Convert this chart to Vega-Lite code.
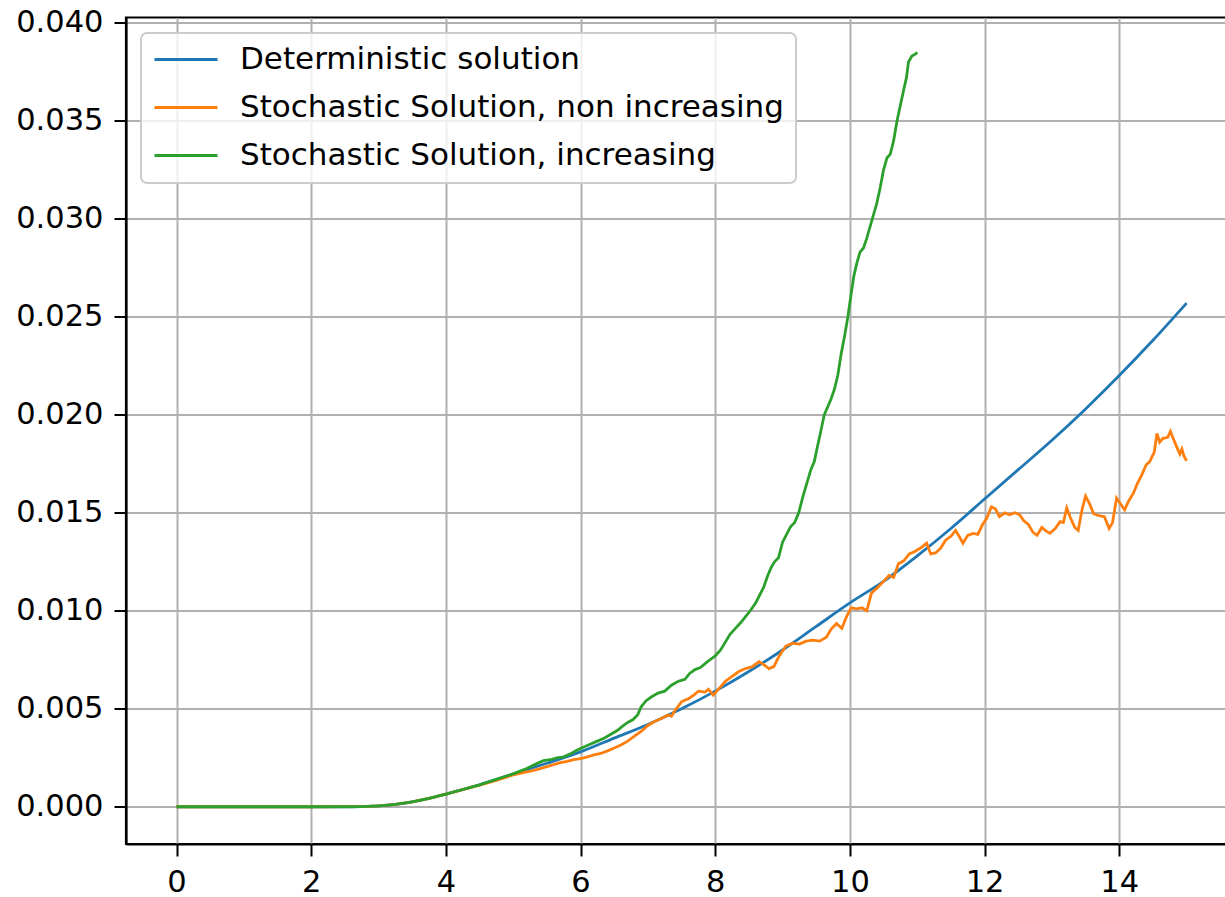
{
  "$schema": "https://vega.github.io/schema/vega-lite/v6.json",
  "usermeta": {"embedOptions": {"actions": false}},
  "width": 1101,
  "height": 826.5,
  "autosize": {"type": "none"},
  "padding": {"left": 126, "top": 17.5, "right": -2, "bottom": 53},
  "background": "white",
  "config": {
    "font": "DejaVu Sans",
    "view": {"stroke": "black", "strokeWidth": 2.2},
    "axis": {
      "grid": true,
      "gridColor": "#b0b0b0",
      "gridWidth": 2,
      "domainColor": "black",
      "domainWidth": 2.2,
      "tickColor": "black",
      "tickWidth": 2,
      "tickSize": 12,
      "labelFont": "DejaVu Sans",
      "labelFontSize": 30.5,
      "labelColor": "black",
      "labelPadding": 11,
      "labelFlush": false,
      "labelOverlap": false,
      "title": null
    },
    "legend": {"strokeWidth": 2}
  },
  "datasets": {
    "det": [
      {"t": 0, "value": 0, "s": "Deterministic solution"},
      {"t": 1, "value": 0, "s": "Deterministic solution"},
      {"t": 2, "value": 0, "s": "Deterministic solution"},
      {"t": 2.5, "value": 0, "s": "Deterministic solution"},
      {"t": 2.75, "value": 0.00001, "s": "Deterministic solution"},
      {"t": 3, "value": 0.00004, "s": "Deterministic solution"},
      {"t": 3.25, "value": 0.00012, "s": "Deterministic solution"},
      {"t": 3.5, "value": 0.00025, "s": "Deterministic solution"},
      {"t": 3.75, "value": 0.00043, "s": "Deterministic solution"},
      {"t": 4, "value": 0.00065, "s": "Deterministic solution"},
      {"t": 4.5, "value": 0.00112, "s": "Deterministic solution"},
      {"t": 5, "value": 0.00167, "s": "Deterministic solution"},
      {"t": 5.5, "value": 0.00222, "s": "Deterministic solution"},
      {"t": 6, "value": 0.0028, "s": "Deterministic solution"},
      {"t": 6.5, "value": 0.0035, "s": "Deterministic solution"},
      {"t": 7, "value": 0.0042, "s": "Deterministic solution"},
      {"t": 7.5, "value": 0.005, "s": "Deterministic solution"},
      {"t": 8, "value": 0.0059, "s": "Deterministic solution"},
      {"t": 8.5, "value": 0.0069, "s": "Deterministic solution"},
      {"t": 9, "value": 0.008, "s": "Deterministic solution"},
      {"t": 9.5, "value": 0.0092, "s": "Deterministic solution"},
      {"t": 10, "value": 0.0104, "s": "Deterministic solution"},
      {"t": 10.5, "value": 0.0115, "s": "Deterministic solution"},
      {"t": 11, "value": 0.0128, "s": "Deterministic solution"},
      {"t": 11.5, "value": 0.0142, "s": "Deterministic solution"},
      {"t": 12, "value": 0.0157, "s": "Deterministic solution"},
      {"t": 12.5, "value": 0.0172, "s": "Deterministic solution"},
      {"t": 13, "value": 0.0187, "s": "Deterministic solution"},
      {"t": 13.5, "value": 0.0203, "s": "Deterministic solution"},
      {"t": 14, "value": 0.022, "s": "Deterministic solution"},
      {"t": 14.5, "value": 0.0238, "s": "Deterministic solution"},
      {"t": 15, "value": 0.0257, "s": "Deterministic solution"}
    ],
    "non": [
      {"t": 0, "value": 0, "s": "Stochastic Solution, non increasing"},
      {"t": 1, "value": 0, "s": "Stochastic Solution, non increasing"},
      {"t": 2, "value": 0, "s": "Stochastic Solution, non increasing"},
      {"t": 2.75, "value": 0.00001, "s": "Stochastic Solution, non increasing"},
      {"t": 3, "value": 0.00004, "s": "Stochastic Solution, non increasing"},
      {"t": 3.25, "value": 0.00012, "s": "Stochastic Solution, non increasing"},
      {"t": 3.5, "value": 0.00025, "s": "Stochastic Solution, non increasing"},
      {"t": 3.75, "value": 0.00043, "s": "Stochastic Solution, non increasing"},
      {"t": 4, "value": 0.00064, "s": "Stochastic Solution, non increasing"},
      {"t": 4.25, "value": 0.00087, "s": "Stochastic Solution, non increasing"},
      {"t": 4.5, "value": 0.0011, "s": "Stochastic Solution, non increasing"},
      {"t": 4.75, "value": 0.00135, "s": "Stochastic Solution, non increasing"},
      {"t": 5.0, "value": 0.00162, "s": "Stochastic Solution, non increasing"},
      {"t": 5.1, "value": 0.0017, "s": "Stochastic Solution, non increasing"},
      {"t": 5.2, "value": 0.00178, "s": "Stochastic Solution, non increasing"},
      {"t": 5.3, "value": 0.00185, "s": "Stochastic Solution, non increasing"},
      {"t": 5.4, "value": 0.00195, "s": "Stochastic Solution, non increasing"},
      {"t": 5.5, "value": 0.00205, "s": "Stochastic Solution, non increasing"},
      {"t": 5.6, "value": 0.00215, "s": "Stochastic Solution, non increasing"},
      {"t": 5.7, "value": 0.00225, "s": "Stochastic Solution, non increasing"},
      {"t": 5.8, "value": 0.00232, "s": "Stochastic Solution, non increasing"},
      {"t": 5.9, "value": 0.0024, "s": "Stochastic Solution, non increasing"},
      {"t": 6.0, "value": 0.00245, "s": "Stochastic Solution, non increasing"},
      {"t": 6.1, "value": 0.00255, "s": "Stochastic Solution, non increasing"},
      {"t": 6.2, "value": 0.00265, "s": "Stochastic Solution, non increasing"},
      {"t": 6.3, "value": 0.00272, "s": "Stochastic Solution, non increasing"},
      {"t": 6.4, "value": 0.00285, "s": "Stochastic Solution, non increasing"},
      {"t": 6.5, "value": 0.003, "s": "Stochastic Solution, non increasing"},
      {"t": 6.6, "value": 0.00315, "s": "Stochastic Solution, non increasing"},
      {"t": 6.7, "value": 0.00335, "s": "Stochastic Solution, non increasing"},
      {"t": 6.8, "value": 0.0036, "s": "Stochastic Solution, non increasing"},
      {"t": 6.9, "value": 0.00385, "s": "Stochastic Solution, non increasing"},
      {"t": 7.0, "value": 0.00415, "s": "Stochastic Solution, non increasing"},
      {"t": 7.1, "value": 0.00435, "s": "Stochastic Solution, non increasing"},
      {"t": 7.2, "value": 0.0045, "s": "Stochastic Solution, non increasing"},
      {"t": 7.3, "value": 0.00468, "s": "Stochastic Solution, non increasing"},
      {"t": 7.35, "value": 0.00462, "s": "Stochastic Solution, non increasing"},
      {"t": 7.4, "value": 0.0049, "s": "Stochastic Solution, non increasing"},
      {"t": 7.5, "value": 0.00535, "s": "Stochastic Solution, non increasing"},
      {"t": 7.55, "value": 0.00545, "s": "Stochastic Solution, non increasing"},
      {"t": 7.6, "value": 0.0055, "s": "Stochastic Solution, non increasing"},
      {"t": 7.7, "value": 0.00575, "s": "Stochastic Solution, non increasing"},
      {"t": 7.75, "value": 0.0059, "s": "Stochastic Solution, non increasing"},
      {"t": 7.85, "value": 0.00585, "s": "Stochastic Solution, non increasing"},
      {"t": 7.9, "value": 0.006, "s": "Stochastic Solution, non increasing"},
      {"t": 7.97, "value": 0.0057, "s": "Stochastic Solution, non increasing"},
      {"t": 8.05, "value": 0.006, "s": "Stochastic Solution, non increasing"},
      {"t": 8.15, "value": 0.0064, "s": "Stochastic Solution, non increasing"},
      {"t": 8.25, "value": 0.00665, "s": "Stochastic Solution, non increasing"},
      {"t": 8.35, "value": 0.0069, "s": "Stochastic Solution, non increasing"},
      {"t": 8.45, "value": 0.00705, "s": "Stochastic Solution, non increasing"},
      {"t": 8.55, "value": 0.00715, "s": "Stochastic Solution, non increasing"},
      {"t": 8.65, "value": 0.0074, "s": "Stochastic Solution, non increasing"},
      {"t": 8.72, "value": 0.00725, "s": "Stochastic Solution, non increasing"},
      {"t": 8.8, "value": 0.00705, "s": "Stochastic Solution, non increasing"},
      {"t": 8.87, "value": 0.00715, "s": "Stochastic Solution, non increasing"},
      {"t": 8.95, "value": 0.0077, "s": "Stochastic Solution, non increasing"},
      {"t": 9.05, "value": 0.0082, "s": "Stochastic Solution, non increasing"},
      {"t": 9.15, "value": 0.00835, "s": "Stochastic Solution, non increasing"},
      {"t": 9.25, "value": 0.0083, "s": "Stochastic Solution, non increasing"},
      {"t": 9.35, "value": 0.00845, "s": "Stochastic Solution, non increasing"},
      {"t": 9.45, "value": 0.0085, "s": "Stochastic Solution, non increasing"},
      {"t": 9.55, "value": 0.00845, "s": "Stochastic Solution, non increasing"},
      {"t": 9.65, "value": 0.00865, "s": "Stochastic Solution, non increasing"},
      {"t": 9.72, "value": 0.00905, "s": "Stochastic Solution, non increasing"},
      {"t": 9.8, "value": 0.00935, "s": "Stochastic Solution, non increasing"},
      {"t": 9.88, "value": 0.0091, "s": "Stochastic Solution, non increasing"},
      {"t": 9.95, "value": 0.0097, "s": "Stochastic Solution, non increasing"},
      {"t": 10.02, "value": 0.01015, "s": "Stochastic Solution, non increasing"},
      {"t": 10.1, "value": 0.0101, "s": "Stochastic Solution, non increasing"},
      {"t": 10.18, "value": 0.01015, "s": "Stochastic Solution, non increasing"},
      {"t": 10.25, "value": 0.01, "s": "Stochastic Solution, non increasing"},
      {"t": 10.32, "value": 0.0109, "s": "Stochastic Solution, non increasing"},
      {"t": 10.4, "value": 0.01115, "s": "Stochastic Solution, non increasing"},
      {"t": 10.5, "value": 0.0115, "s": "Stochastic Solution, non increasing"},
      {"t": 10.58, "value": 0.0118, "s": "Stochastic Solution, non increasing"},
      {"t": 10.65, "value": 0.0117, "s": "Stochastic Solution, non increasing"},
      {"t": 10.72, "value": 0.0124, "s": "Stochastic Solution, non increasing"},
      {"t": 10.8, "value": 0.01255, "s": "Stochastic Solution, non increasing"},
      {"t": 10.88, "value": 0.0129, "s": "Stochastic Solution, non increasing"},
      {"t": 10.95, "value": 0.013, "s": "Stochastic Solution, non increasing"},
      {"t": 11.05, "value": 0.0132, "s": "Stochastic Solution, non increasing"},
      {"t": 11.14, "value": 0.01345, "s": "Stochastic Solution, non increasing"},
      {"t": 11.2, "value": 0.0129, "s": "Stochastic Solution, non increasing"},
      {"t": 11.27, "value": 0.01295, "s": "Stochastic Solution, non increasing"},
      {"t": 11.35, "value": 0.0132, "s": "Stochastic Solution, non increasing"},
      {"t": 11.42, "value": 0.0136, "s": "Stochastic Solution, non increasing"},
      {"t": 11.5, "value": 0.0138, "s": "Stochastic Solution, non increasing"},
      {"t": 11.57, "value": 0.0141, "s": "Stochastic Solution, non increasing"},
      {"t": 11.63, "value": 0.01375, "s": "Stochastic Solution, non increasing"},
      {"t": 11.68, "value": 0.01345, "s": "Stochastic Solution, non increasing"},
      {"t": 11.75, "value": 0.01385, "s": "Stochastic Solution, non increasing"},
      {"t": 11.83, "value": 0.01395, "s": "Stochastic Solution, non increasing"},
      {"t": 11.9, "value": 0.0139, "s": "Stochastic Solution, non increasing"},
      {"t": 11.97, "value": 0.0144, "s": "Stochastic Solution, non increasing"},
      {"t": 12.03, "value": 0.0147, "s": "Stochastic Solution, non increasing"},
      {"t": 12.1, "value": 0.0153, "s": "Stochastic Solution, non increasing"},
      {"t": 12.16, "value": 0.0152, "s": "Stochastic Solution, non increasing"},
      {"t": 12.22, "value": 0.0148, "s": "Stochastic Solution, non increasing"},
      {"t": 12.3, "value": 0.015, "s": "Stochastic Solution, non increasing"},
      {"t": 12.37, "value": 0.0149, "s": "Stochastic Solution, non increasing"},
      {"t": 12.45, "value": 0.015, "s": "Stochastic Solution, non increasing"},
      {"t": 12.52, "value": 0.0149, "s": "Stochastic Solution, non increasing"},
      {"t": 12.58, "value": 0.0146, "s": "Stochastic Solution, non increasing"},
      {"t": 12.65, "value": 0.0144, "s": "Stochastic Solution, non increasing"},
      {"t": 12.72, "value": 0.014, "s": "Stochastic Solution, non increasing"},
      {"t": 12.78, "value": 0.01385, "s": "Stochastic Solution, non increasing"},
      {"t": 12.85, "value": 0.01425, "s": "Stochastic Solution, non increasing"},
      {"t": 12.9, "value": 0.0141, "s": "Stochastic Solution, non increasing"},
      {"t": 12.97, "value": 0.01395, "s": "Stochastic Solution, non increasing"},
      {"t": 13.05, "value": 0.0142, "s": "Stochastic Solution, non increasing"},
      {"t": 13.12, "value": 0.01455, "s": "Stochastic Solution, non increasing"},
      {"t": 13.17, "value": 0.0145, "s": "Stochastic Solution, non increasing"},
      {"t": 13.22, "value": 0.01525, "s": "Stochastic Solution, non increasing"},
      {"t": 13.28, "value": 0.0147, "s": "Stochastic Solution, non increasing"},
      {"t": 13.34, "value": 0.01425, "s": "Stochastic Solution, non increasing"},
      {"t": 13.39, "value": 0.0141, "s": "Stochastic Solution, non increasing"},
      {"t": 13.45, "value": 0.0152, "s": "Stochastic Solution, non increasing"},
      {"t": 13.5, "value": 0.01585, "s": "Stochastic Solution, non increasing"},
      {"t": 13.56, "value": 0.01545, "s": "Stochastic Solution, non increasing"},
      {"t": 13.62, "value": 0.01495, "s": "Stochastic Solution, non increasing"},
      {"t": 13.7, "value": 0.01485, "s": "Stochastic Solution, non increasing"},
      {"t": 13.78, "value": 0.0148, "s": "Stochastic Solution, non increasing"},
      {"t": 13.85, "value": 0.0142, "s": "Stochastic Solution, non increasing"},
      {"t": 13.9, "value": 0.0145, "s": "Stochastic Solution, non increasing"},
      {"t": 13.96, "value": 0.01575, "s": "Stochastic Solution, non increasing"},
      {"t": 14.02, "value": 0.01545, "s": "Stochastic Solution, non increasing"},
      {"t": 14.08, "value": 0.01515, "s": "Stochastic Solution, non increasing"},
      {"t": 14.14, "value": 0.0156, "s": "Stochastic Solution, non increasing"},
      {"t": 14.21, "value": 0.016, "s": "Stochastic Solution, non increasing"},
      {"t": 14.27, "value": 0.0165, "s": "Stochastic Solution, non increasing"},
      {"t": 14.33, "value": 0.0169, "s": "Stochastic Solution, non increasing"},
      {"t": 14.4, "value": 0.01745, "s": "Stochastic Solution, non increasing"},
      {"t": 14.45, "value": 0.0176, "s": "Stochastic Solution, non increasing"},
      {"t": 14.52, "value": 0.0181, "s": "Stochastic Solution, non increasing"},
      {"t": 14.56, "value": 0.01905, "s": "Stochastic Solution, non increasing"},
      {"t": 14.6, "value": 0.0186, "s": "Stochastic Solution, non increasing"},
      {"t": 14.65, "value": 0.0188, "s": "Stochastic Solution, non increasing"},
      {"t": 14.72, "value": 0.01885, "s": "Stochastic Solution, non increasing"},
      {"t": 14.76, "value": 0.01915, "s": "Stochastic Solution, non increasing"},
      {"t": 14.8, "value": 0.0188, "s": "Stochastic Solution, non increasing"},
      {"t": 14.86, "value": 0.0183, "s": "Stochastic Solution, non increasing"},
      {"t": 14.9, "value": 0.018, "s": "Stochastic Solution, non increasing"},
      {"t": 14.93, "value": 0.01825, "s": "Stochastic Solution, non increasing"},
      {"t": 14.96, "value": 0.0179, "s": "Stochastic Solution, non increasing"},
      {"t": 15.0, "value": 0.01765, "s": "Stochastic Solution, non increasing"}
    ],
    "inc": [
      {"t": 0, "value": 0, "s": "Stochastic Solution, increasing"},
      {"t": 1, "value": 0, "s": "Stochastic Solution, increasing"},
      {"t": 2, "value": 0, "s": "Stochastic Solution, increasing"},
      {"t": 2.75, "value": 0.00001, "s": "Stochastic Solution, increasing"},
      {"t": 3, "value": 0.00004, "s": "Stochastic Solution, increasing"},
      {"t": 3.25, "value": 0.00012, "s": "Stochastic Solution, increasing"},
      {"t": 3.5, "value": 0.00025, "s": "Stochastic Solution, increasing"},
      {"t": 3.75, "value": 0.00043, "s": "Stochastic Solution, increasing"},
      {"t": 4, "value": 0.00065, "s": "Stochastic Solution, increasing"},
      {"t": 4.25, "value": 0.00088, "s": "Stochastic Solution, increasing"},
      {"t": 4.5, "value": 0.00112, "s": "Stochastic Solution, increasing"},
      {"t": 4.75, "value": 0.0014, "s": "Stochastic Solution, increasing"},
      {"t": 5.0, "value": 0.00168, "s": "Stochastic Solution, increasing"},
      {"t": 5.2, "value": 0.00195, "s": "Stochastic Solution, increasing"},
      {"t": 5.35, "value": 0.0022, "s": "Stochastic Solution, increasing"},
      {"t": 5.45, "value": 0.00235, "s": "Stochastic Solution, increasing"},
      {"t": 5.55, "value": 0.0024, "s": "Stochastic Solution, increasing"},
      {"t": 5.65, "value": 0.0025, "s": "Stochastic Solution, increasing"},
      {"t": 5.75, "value": 0.00255, "s": "Stochastic Solution, increasing"},
      {"t": 5.85, "value": 0.0027, "s": "Stochastic Solution, increasing"},
      {"t": 5.95, "value": 0.0029, "s": "Stochastic Solution, increasing"},
      {"t": 6.05, "value": 0.00305, "s": "Stochastic Solution, increasing"},
      {"t": 6.15, "value": 0.0032, "s": "Stochastic Solution, increasing"},
      {"t": 6.25, "value": 0.00335, "s": "Stochastic Solution, increasing"},
      {"t": 6.35, "value": 0.0035, "s": "Stochastic Solution, increasing"},
      {"t": 6.45, "value": 0.0037, "s": "Stochastic Solution, increasing"},
      {"t": 6.55, "value": 0.0039, "s": "Stochastic Solution, increasing"},
      {"t": 6.62, "value": 0.0041, "s": "Stochastic Solution, increasing"},
      {"t": 6.7, "value": 0.0043, "s": "Stochastic Solution, increasing"},
      {"t": 6.78, "value": 0.00445, "s": "Stochastic Solution, increasing"},
      {"t": 6.85, "value": 0.0047, "s": "Stochastic Solution, increasing"},
      {"t": 6.9, "value": 0.0051, "s": "Stochastic Solution, increasing"},
      {"t": 6.97, "value": 0.0054, "s": "Stochastic Solution, increasing"},
      {"t": 7.05, "value": 0.0056, "s": "Stochastic Solution, increasing"},
      {"t": 7.15, "value": 0.0058, "s": "Stochastic Solution, increasing"},
      {"t": 7.25, "value": 0.0059, "s": "Stochastic Solution, increasing"},
      {"t": 7.35, "value": 0.0062, "s": "Stochastic Solution, increasing"},
      {"t": 7.45, "value": 0.0064, "s": "Stochastic Solution, increasing"},
      {"t": 7.55, "value": 0.0065, "s": "Stochastic Solution, increasing"},
      {"t": 7.62, "value": 0.0068, "s": "Stochastic Solution, increasing"},
      {"t": 7.7, "value": 0.007, "s": "Stochastic Solution, increasing"},
      {"t": 7.78, "value": 0.0071, "s": "Stochastic Solution, increasing"},
      {"t": 7.85, "value": 0.0073, "s": "Stochastic Solution, increasing"},
      {"t": 7.92, "value": 0.0075, "s": "Stochastic Solution, increasing"},
      {"t": 8.0, "value": 0.0077, "s": "Stochastic Solution, increasing"},
      {"t": 8.08, "value": 0.008, "s": "Stochastic Solution, increasing"},
      {"t": 8.15, "value": 0.0084, "s": "Stochastic Solution, increasing"},
      {"t": 8.22, "value": 0.0088, "s": "Stochastic Solution, increasing"},
      {"t": 8.3, "value": 0.0091, "s": "Stochastic Solution, increasing"},
      {"t": 8.38, "value": 0.0094, "s": "Stochastic Solution, increasing"},
      {"t": 8.45, "value": 0.0097, "s": "Stochastic Solution, increasing"},
      {"t": 8.52, "value": 0.01, "s": "Stochastic Solution, increasing"},
      {"t": 8.6, "value": 0.0104, "s": "Stochastic Solution, increasing"},
      {"t": 8.66, "value": 0.0108, "s": "Stochastic Solution, increasing"},
      {"t": 8.72, "value": 0.0112, "s": "Stochastic Solution, increasing"},
      {"t": 8.78, "value": 0.0118, "s": "Stochastic Solution, increasing"},
      {"t": 8.83, "value": 0.0122, "s": "Stochastic Solution, increasing"},
      {"t": 8.88, "value": 0.0125, "s": "Stochastic Solution, increasing"},
      {"t": 8.94, "value": 0.0127, "s": "Stochastic Solution, increasing"},
      {"t": 9.0, "value": 0.0135, "s": "Stochastic Solution, increasing"},
      {"t": 9.06, "value": 0.0139, "s": "Stochastic Solution, increasing"},
      {"t": 9.12, "value": 0.0143, "s": "Stochastic Solution, increasing"},
      {"t": 9.18, "value": 0.0145, "s": "Stochastic Solution, increasing"},
      {"t": 9.24, "value": 0.015, "s": "Stochastic Solution, increasing"},
      {"t": 9.3, "value": 0.0158, "s": "Stochastic Solution, increasing"},
      {"t": 9.36, "value": 0.0165, "s": "Stochastic Solution, increasing"},
      {"t": 9.42, "value": 0.0172, "s": "Stochastic Solution, increasing"},
      {"t": 9.47, "value": 0.0176, "s": "Stochastic Solution, increasing"},
      {"t": 9.52, "value": 0.0184, "s": "Stochastic Solution, increasing"},
      {"t": 9.57, "value": 0.0192, "s": "Stochastic Solution, increasing"},
      {"t": 9.62, "value": 0.02, "s": "Stochastic Solution, increasing"},
      {"t": 9.67, "value": 0.0204, "s": "Stochastic Solution, increasing"},
      {"t": 9.72, "value": 0.0208, "s": "Stochastic Solution, increasing"},
      {"t": 9.77, "value": 0.0213, "s": "Stochastic Solution, increasing"},
      {"t": 9.82, "value": 0.022, "s": "Stochastic Solution, increasing"},
      {"t": 9.87, "value": 0.0231, "s": "Stochastic Solution, increasing"},
      {"t": 9.92, "value": 0.024, "s": "Stochastic Solution, increasing"},
      {"t": 9.97, "value": 0.025, "s": "Stochastic Solution, increasing"},
      {"t": 10.02, "value": 0.0262, "s": "Stochastic Solution, increasing"},
      {"t": 10.06, "value": 0.0271, "s": "Stochastic Solution, increasing"},
      {"t": 10.1, "value": 0.0277, "s": "Stochastic Solution, increasing"},
      {"t": 10.15, "value": 0.0283, "s": "Stochastic Solution, increasing"},
      {"t": 10.2, "value": 0.0285, "s": "Stochastic Solution, increasing"},
      {"t": 10.25, "value": 0.029, "s": "Stochastic Solution, increasing"},
      {"t": 10.3, "value": 0.0296, "s": "Stochastic Solution, increasing"},
      {"t": 10.35, "value": 0.0302, "s": "Stochastic Solution, increasing"},
      {"t": 10.4, "value": 0.0308, "s": "Stochastic Solution, increasing"},
      {"t": 10.45, "value": 0.0316, "s": "Stochastic Solution, increasing"},
      {"t": 10.5, "value": 0.0325, "s": "Stochastic Solution, increasing"},
      {"t": 10.55, "value": 0.0331, "s": "Stochastic Solution, increasing"},
      {"t": 10.6, "value": 0.0333, "s": "Stochastic Solution, increasing"},
      {"t": 10.65, "value": 0.034, "s": "Stochastic Solution, increasing"},
      {"t": 10.7, "value": 0.035, "s": "Stochastic Solution, increasing"},
      {"t": 10.75, "value": 0.0358, "s": "Stochastic Solution, increasing"},
      {"t": 10.8, "value": 0.0366, "s": "Stochastic Solution, increasing"},
      {"t": 10.84, "value": 0.0372, "s": "Stochastic Solution, increasing"},
      {"t": 10.87, "value": 0.038, "s": "Stochastic Solution, increasing"},
      {"t": 10.92, "value": 0.0383, "s": "Stochastic Solution, increasing"},
      {"t": 10.97, "value": 0.0384, "s": "Stochastic Solution, increasing"},
      {"t": 11.0, "value": 0.0385, "s": "Stochastic Solution, increasing"}
    ]
  },
  "encoding": {
    "x": {
      "field": "t",
      "type": "quantitative",
      "scale": {"domain": [-0.75, 15.6], "nice": false, "zero": false},
      "axis": {"values": [0, 2, 4, 6, 8, 10, 12, 14], "format": "d"}
    },
    "y": {
      "field": "value",
      "type": "quantitative",
      "scale": {"domain": [-0.0019, 0.04027], "nice": false, "zero": false},
      "axis": {"values": [0, 0.005, 0.01, 0.015, 0.02, 0.025, 0.03, 0.035, 0.04], "format": ".3f"}
    },
    "color": {
      "field": "s",
      "type": "nominal",
      "scale": {
        "domain": ["Deterministic solution", "Stochastic Solution, non increasing", "Stochastic Solution, increasing"],
        "range": ["#1f77b4", "#ff7f0e", "#2ca02c"]
      },
      "legend": {
        "orient": "none",
        "legendX": 15,
        "legendY": 15.5,
        "title": null,
        "symbolType": "stroke",
        "symbolSize": 3969,
        "symbolStrokeWidth": 2.8,
        "labelFont": "DejaVu Sans",
        "labelFontSize": 31,
        "labelColor": "black",
        "labelLimit": 0,
        "labelOffset": 21,
        "symbolOffset": 0,
        "clipHeight": 29,
        "rowPadding": 16,
        "padding": 12,
        "fillColor": "rgba(255,255,255,0.8)",
        "strokeColor": "#cccccc",
        "cornerRadius": 6
      }
    }
  },
  "layer": [
    {"data": {"name": "det"}, "mark": {"type": "line", "strokeWidth": 2.8, "interpolate": "monotone"}},
    {"data": {"name": "non"}, "mark": {"type": "line", "strokeWidth": 2.8}},
    {"data": {"name": "inc"}, "mark": {"type": "line", "strokeWidth": 2.8}}
  ]
}
